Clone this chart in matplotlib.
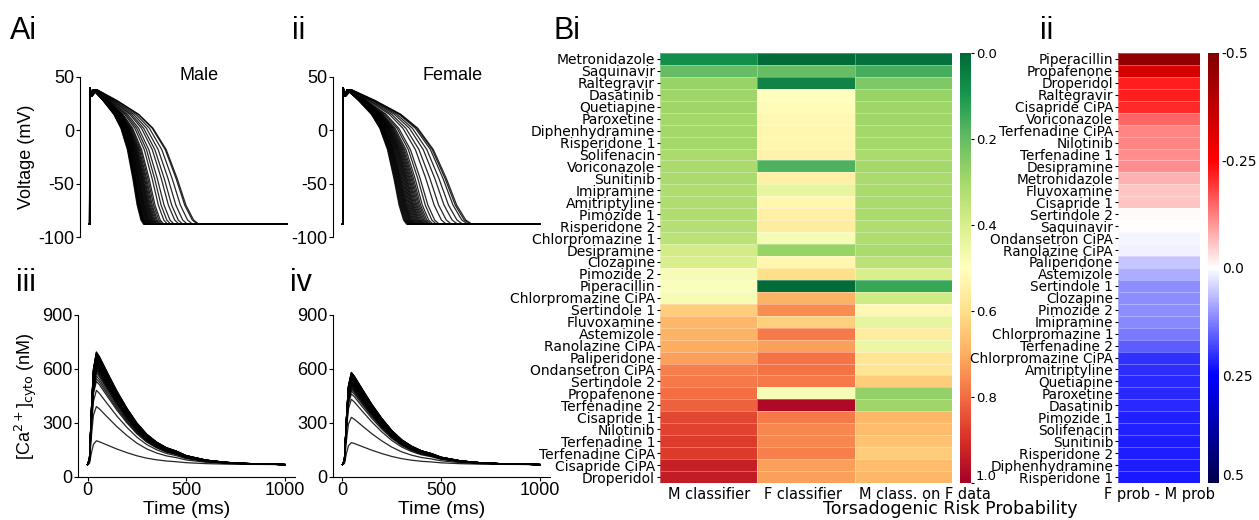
import numpy as np
import matplotlib
matplotlib.use("Agg")
import matplotlib.pyplot as plt

# ---- data ----
drugs = ["Metronidazole", "Saquinavir", "Raltegravir", "Dasatinib", "Quetiapine",
         "Paroxetine", "Diphenhydramine", "Risperidone 1", "Solifenacin", "Voriconazole",
         "Sunitinib", "Imipramine", "Amitriptyline", "Pimozide 1", "Risperidone 2",
         "Chlorpromazine 1", "Desipramine", "Clozapine", "Pimozide 2", "Piperacillin",
         "Chlorpromazine CiPA", "Sertindole 1", "Fluvoxamine", "Astemizole",
         "Ranolazine CiPA", "Paliperidone", "Ondansetron CiPA", "Sertindole 2",
         "Propafenone", "Terfenadine 2", "Cisapride 1", "Nilotinib", "Terfenadine 1",
         "Terfenadine CiPA", "Cisapride CiPA", "Droperidol"]
m_clf = [0.08, 0.20, 0.28, 0.29, 0.29, 0.30, 0.30, 0.30, 0.31, 0.31, 0.31, 0.32,
         0.32, 0.32, 0.33, 0.34, 0.39, 0.40, 0.48, 0.49, 0.48, 0.64, 0.68, 0.69,
         0.70, 0.72, 0.77, 0.78, 0.80, 0.82, 0.86, 0.87, 0.88, 0.88, 0.93, 0.94]
f_clf = [0.01, 0.20, 0.06, 0.50, 0.51, 0.52, 0.53, 0.53, 0.54, 0.17, 0.55, 0.44,
         0.53, 0.55, 0.56, 0.48, 0.28, 0.53, 0.60, 0.01, 0.69, 0.75, 0.63, 0.78,
         0.72, 0.79, 0.79, 0.78, 0.48, 0.98, 0.78, 0.76, 0.76, 0.77, 0.72, 0.72]
m_on_f = [0.02, 0.16, 0.24, 0.28, 0.29, 0.29, 0.30, 0.30, 0.31, 0.30, 0.31, 0.31,
          0.31, 0.31, 0.32, 0.32, 0.31, 0.34, 0.40, 0.14, 0.38, 0.52, 0.44, 0.56,
          0.45, 0.58, 0.58, 0.64, 0.27, 0.29, 0.68, 0.67, 0.66, 0.64, 0.67, 0.68]
col_labels = ["M classifier", "F classifier", "M class. on F data"]

diff_drugs = ["Piperacillin", "Propafenone", "Droperidol", "Raltegravir", "Cisapride CiPA",
              "Voriconazole", "Terfenadine CiPA", "Nilotinib", "Terfenadine 1", "Desipramine",
              "Metronidazole", "Fluvoxamine", "Cisapride 1", "Sertindole 2", "Saquinavir",
              "Ondansetron CiPA", "Ranolazine CiPA", "Paliperidone", "Astemizole",
              "Sertindole 1", "Clozapine", "Pimozide 2", "Imipramine", "Chlorpromazine 1",
              "Terfenadine 2", "Chlorpromazine CiPA", "Amitriptyline", "Quetiapine",
              "Paroxetine", "Dasatinib", "Pimozide 1", "Solifenacin", "Sunitinib",
              "Risperidone 2", "Diphenhydramine", "Risperidone 1"]
diff_vals = [-0.46, -0.33, -0.22, -0.22, -0.21, -0.15, -0.12, -0.12, -0.11, -0.11,
             -0.075, -0.055, -0.055, -0.004, -0.003, 0.008, 0.012, 0.055, 0.08,
             0.11, 0.11, 0.11, 0.115, 0.13, 0.16, 0.2, 0.205, 0.21, 0.21, 0.21,
             0.215, 0.215, 0.22, 0.22, 0.22, 0.225]

# AP shape (fraction of APD, mV) and per-trace APD90 (ms)
ap_frac = [0.0, 0.003, 0.006, 0.025, 0.07, 0.25, 0.45, 0.58, 0.7, 0.8, 0.88, 0.95, 1.0]
ap_volt = [-88, -88, 40, 32, 38, 28, 15, 2, -18, -45, -70, -84, -88]
ap_end = 1000
apd_male = [275, 278, 281, 282, 285, 288, 290, 293, 296, 300, 303, 306, 310, 313, 316,
            320, 324, 328, 332, 336, 340, 345, 350, 356, 362, 370, 378, 397, 413, 430,
            455, 474, 498, 524, 549, 556]
apd_female = [326, 330, 334, 338, 342, 346, 350, 354, 358, 362, 366, 370, 375, 380, 385,
              390, 395, 400, 405, 410, 416, 422, 428, 435, 442, 450, 460, 477, 492, 528,
              554, 585, 611, 637, 650, 658]

# Ca transient shape (ms, fraction of amplitude) and per-trace peaks (nM)
ca_t = [0, 10, 20, 30, 45, 60, 100, 150, 200, 250, 300, 350, 400, 450, 500, 600, 700, 800, 1000]
ca_f = [0.0, 0.05, 0.5, 0.85, 1.0, 0.96, 0.82, 0.65, 0.5, 0.37, 0.27, 0.2, 0.15, 0.12,
        0.08, 0.04, 0.02, 0.01, 0.0]
ca_rest = 68
ca_peak_male = [200, 390, 480, 530, 545, 560, 575, 585, 592, 600, 605, 610, 615, 620,
                624, 628, 632, 636, 640, 644, 648, 651, 654, 657, 660, 663, 666, 669,
                672, 675, 678, 681, 684, 687, 690, 693]
ca_peak_female = [190, 330, 430, 460, 475, 485, 492, 498, 503, 508, 512, 516, 520, 524,
                  527, 530, 533, 536, 539, 542, 545, 548, 551, 554, 557, 560, 562, 564,
                  566, 568, 570, 572, 574, 576, 578, 580]

plt.rcParams['font.family'] = ['Liberation Sans', 'DejaVu Sans']
plt.rcParams['axes.unicode_minus'] = False
fig = plt.figure(figsize=(12.59, 5.2), dpi=100)


def style_axes(ax):
    for s in ["top", "right"]:
        ax.spines[s].set_visible(False)
    ax.tick_params(labelsize=13, length=3, pad=1)


def ap_panel(rect, apds, title):
    ax = fig.add_axes(rect)
    for apd in apds:
        t = list(np.array(ap_frac) * apd) + [ap_end]
        ax.plot(t, ap_volt + [-88], color="k", lw=0.9, alpha=0.85)
    ax.set_xlim(-48, 1050)
    ax.set_ylim(-100, 50)
    ax.set_yticks([-100, -50, 0, 50])
    style_axes(ax)
    ax.spines["bottom"].set_visible(False)
    ax.set_xticks([])
    ax.text(0.55, 1.01, title, transform=ax.transAxes, fontsize=13,
            ha="center", va="center")
    return ax


def ca_panel(rect, peaks):
    ax = fig.add_axes(rect)
    for pk in peaks:
        y = ca_rest + np.array(ca_f) * (pk - ca_rest)
        ax.plot(ca_t, y, color="k", lw=0.9, alpha=0.85)
    ax.set_xlim(-48, 1050)
    ax.set_ylim(0, 900)
    ax.set_yticks([0, 300, 600, 900])
    ax.set_xticks([0, 500, 1000])
    style_axes(ax)
    ax.set_xlabel("Time (ms)", fontsize=14, labelpad=1)
    return ax


ax1 = ap_panel([0.0635, 0.544, 0.172, 0.308], apd_male, "Male")
ax1.set_ylabel("Voltage (mV)", fontsize=13, labelpad=2)
ap_panel([0.2645, 0.544, 0.172, 0.308], apd_female, "Female")
ax3 = ca_panel([0.0620, 0.083, 0.172, 0.312], ca_peak_male)
ax3.set_ylabel("[Ca$^{2+}$]$_{\\rm cyto}$ (nM)", fontsize=13, labelpad=2)
ca_panel([0.2645, 0.083, 0.172, 0.312], ca_peak_female)

for txt, x, y in [("Ai", 0.008, 0.925), ("ii", 0.232, 0.925), ("iii", 0.013, 0.44),
                  ("iv", 0.230, 0.44), ("Bi", 0.440, 0.925), ("ii", 0.826, 0.925)]:
    fig.text(x, y, txt, fontsize=22)

# ---- heatmap Bi ----
hfont = ['DejaVu Sans']
edge = (1, 1, 1, 0.3)
data = np.column_stack([m_clf, f_clf, m_on_f])
axh = fig.add_axes([0.5242, 0.0712, 0.2319, 0.827])
mesh = axh.pcolormesh(data, cmap="RdYlGn_r", vmin=0, vmax=1,
                      edgecolors=edge, linewidth=0.4)
axh.set_xlim(0, 3)
axh.set_ylim(len(drugs), 0)
axh.set_yticks(np.arange(len(drugs)) + 0.5)
axh.set_yticklabels(drugs, fontsize=10, family=hfont)
axh.set_xticks([0.08, 1.07, 2.04])
axh.set_xticklabels(col_labels, fontsize=10.5, family=hfont, ha="left")
axh.tick_params(axis="y", length=2.5, pad=1)
axh.tick_params(axis="x", length=0, pad=3)
for s in axh.spines.values():
    s.set_visible(False)
fig.text(0.755, 0.012, "Torsadogenic Risk Probability", fontsize=12.5,
         family=hfont, ha="center")

cax1 = fig.add_axes([0.7625, 0.0712, 0.0087, 0.827])
cb1 = fig.colorbar(mesh, cax=cax1)
cb1.outline.set_visible(False)
cax1.invert_yaxis()
cb1.set_ticks([0, 0.2, 0.4, 0.6, 0.8, 1.0])
cb1.set_ticklabels(["0.0", "0.2", "0.4", "0.6", "0.8", "1.0"])
cax1.tick_params(labelsize=9.5, length=2.5, pad=1)
for lab in cax1.get_yticklabels():
    lab.set_family(hfont)
cax1.get_yticklabels()[-1].set_verticalalignment("bottom")

# ---- heatmap ii ----
axd = fig.add_axes([0.888, 0.0712, 0.0651, 0.827])
mesh2 = axd.pcolormesh(np.array(diff_vals)[:, None], cmap="seismic_r", vmin=-0.5,
                       vmax=0.5, edgecolors=edge, linewidth=0.4)
axd.set_xlim(0, 1)
axd.set_ylim(len(diff_drugs), 0)
axd.set_yticks(np.arange(len(diff_drugs)) + 0.5)
axd.set_yticklabels(diff_drugs, fontsize=9.8, family=hfont)
axd.set_xticks([0.5])
axd.set_xticklabels(["F prob - M prob"], fontsize=10.5, family=hfont)
axd.tick_params(axis="y", length=2.5, pad=1)
axd.tick_params(axis="x", length=0, pad=3)
for s in axd.spines.values():
    s.set_visible(False)

cax2 = fig.add_axes([0.9595, 0.0712, 0.0087, 0.827])
cb2 = fig.colorbar(mesh2, cax=cax2)
cb2.outline.set_visible(False)
cax2.invert_yaxis()
cb2.set_ticks([-0.5, -0.25, 0, 0.25, 0.5])
cb2.set_ticklabels(["-0.5", "-0.25", "0.0", "0.25", "0.5"])
cax2.tick_params(labelsize=10, length=0, pad=2)
for lab in cax2.get_yticklabels():
    lab.set_family(hfont)
cax2.get_yticklabels()[-1].set_verticalalignment("bottom")

fig.savefig("out.png", dpi=100)
